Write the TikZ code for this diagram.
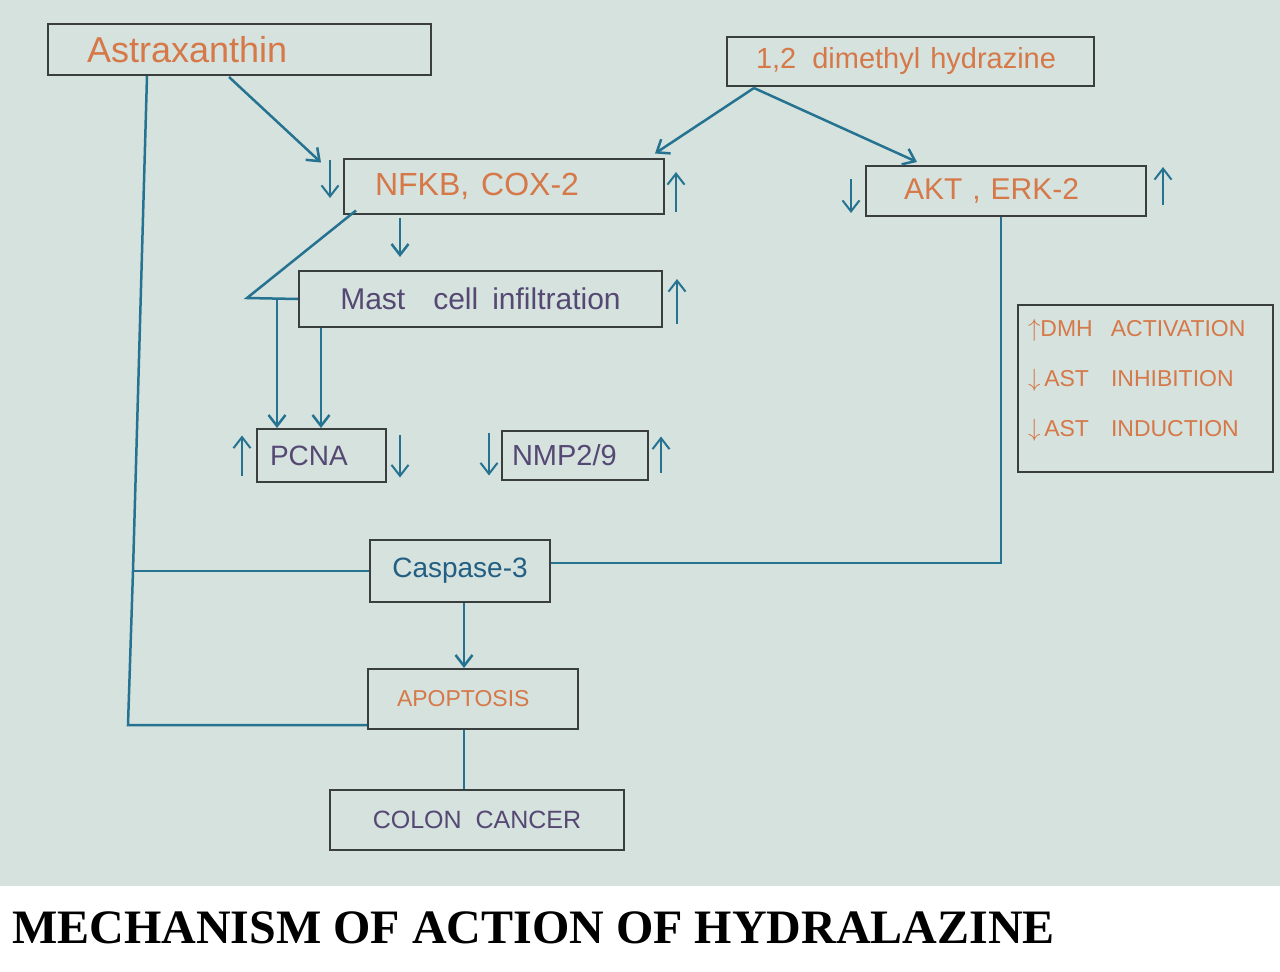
\documentclass[tikz,border=0pt]{standalone}
\usepackage{fontspec}
\setmainfont{Liberation Sans}
\newfontfamily\titlefont{Liberation Serif}
\usetikzlibrary{arrows.meta,calc}
\definecolor{paper}{RGB}{213,226,222}
\definecolor{boxline}{RGB}{58,62,62}
\definecolor{ink}{RGB}{38,115,145}
\definecolor{orangeink}{RGB}{214,120,72}
\definecolor{purpleink}{RGB}{85,72,115}
\definecolor{tealtext}{RGB}{35,95,130}
\begin{document}
\begin{tikzpicture}[x=1pt,y=-1pt,
		>={Straight Barb[length=11pt,width=17pt]},
		flowbox/.style={draw=boxline, line width=2pt, rectangle, inner ysep=0pt},
		flowline/.style={draw=ink, line width=2.5pt},
		updown/.style={draw=ink, line width=2pt, ->}]
				% paper and caption strip
				\useasboundingbox (0,0) rectangle (1280,972);
				\fill[paper] (0,0) rectangle (1280,886);

				% Astraxanthin
				\node[flowbox, text width=305pt, inner xsep=39pt, minimum height=51pt, align=left, text=orangeink, font=\fontsize{36}{40}\selectfont] (astr) at (239.5,49.5) {Astraxanthin};

				% 1,2 dimethyl hydrazine
				\node[flowbox, text width=309pt, inner xsep=29pt, minimum height=49pt, align=left, text=orangeink, font=\fontsize{29}{34}\selectfont] (dmh) at (910.5,61.5) {1,2\hspace{16pt}dimethyl\hspace{10pt}hydrazine};

				% NFKB, COX-2
				\node[flowbox, text width=258pt, inner xsep=31pt, minimum height=55pt, align=left, text=orangeink, font=\fontsize{32}{36}\selectfont] (nfkb) at (504,186) {NFKB,\hspace{12pt}COX-2};

				% AKT, ERK-2
				\node[flowbox, text width=204pt, inner xsep=38pt, minimum height=50pt, align=left, text=orangeink, font=\fontsize{30}{34}\selectfont] (akt) at (1006,191) {AKT , ERK-2};

				% Mast cell infiltration
				\node[flowbox, minimum width=363pt, minimum height=56pt, text=purpleink, font=\fontsize{30}{34}\selectfont] (mast) at (480.5,299) {Mast\hspace{28pt}cell\hspace{14pt}infiltration};

				% PCNA and NMP2/9
				\node[flowbox, text width=103pt, inner xsep=13pt, minimum height=53pt, align=left, text=purpleink, font=\fontsize{28}{32}\selectfont] (pcna) at (321.5,455.5) {PCNA};
				\node[flowbox, text width=126pt, inner xsep=10pt, minimum height=49pt, align=left, text=purpleink, font=\fontsize{29}{32}\selectfont] (nmp) at (575,455.5) {NMP2/9};

				% Key
				\node[flowbox, text width=235pt, inner xsep=10pt, minimum height=167pt, align=left, text=orangeink, font=\fontsize{23}{50}\selectfont] (key) at (1145.5,388.5) {$\uparrow$DMH\hspace{18pt}ACTIVATION\\$\downarrow$\,AST\hspace{22pt}INHIBITION\\$\downarrow$\,AST\hspace{22pt}INDUCTION\par\vspace{17pt}};

				% Caspase-3
				\node[flowbox, minimum width=180pt, minimum height=62pt, text=tealtext, font=\fontsize{28}{32}\selectfont] (casp) at (460,571) {Caspase-3};

				% Apoptosis
				\node[flowbox, text width=152pt, inner xsep=29pt, minimum height=60pt, align=left, text=orangeink, font=\fontsize{23}{26}\selectfont] (apop) at (473,699) {APOPTOSIS};

				% Colon cancer
				\node[flowbox, minimum width=294pt, minimum height=60pt, text=purpleink, font=\fontsize{25}{28}\selectfont] (colon) at (477,820) {COLON\hspace{14pt}CANCER};

				% Caption
				\node[anchor=base west, inner sep=0pt, font=\titlefont\bfseries\fontsize{48}{52}\selectfont] (title) at (12,943) {MECHANISM OF ACTION OF HYDRALAZINE};

				% Astraxanthin links
				\coordinate (astrmid) at (133,571);
				\coordinate (astrfoot) at (128,725);
				\draw[->, flowline] ($(astr.south west)+(182,1)$) -- ($(nfkb.north west)+(-22,5)$);
				\draw[flowline] ($(astr.south west)+(100,0)$) -- (astrmid) -- (astrfoot) -- (astrfoot -| apop.west);
				\draw[flowline] (astrmid) -- (casp.west);

				% hydrazine links
				\coordinate (fork) at ($(dmh.south west)+(28,1)$);
				\draw[->, flowline] (fork) -- ($(nfkb.north east)+(-10,-4)$);
				\draw[->, flowline] (fork) -- ($(akt.north west)+(52,-3)$);

				% NFKB links
				\draw[->, flowline] ($(nfkb.south west)+(57,3)$) -- ($(mast.north west)+(102,-13)$);
				\coordinate (bend) at (247,298);
				\draw[flowline] ($(nfkb.south west)+(13,-4)$) -- (bend) -- (mast.west);
				\draw[->, flowline] ($(pcna.north west)+(21,-130)$) -- ($(pcna.north west)+(21,0)$);
				\draw[->, flowline] ($(mast.south west)+(23,0)$) -- ($(pcna.north west)+(65,0)$);

				% AKT to caspase
				\draw[flowline] ($(akt.south)+(-5,0)$) |- ($(casp.east)+(0,-8)$);

				% caspase, apoptosis, colon cancer
				\draw[->, flowline] ($(casp.south)+(4,0)$) -- ($(apop.north)+(-9,0)$);
				\draw[flowline] ($(apop.south)+(-9,0)$) -- ($(colon.north)+(-13,0)$);

				% up and down marks
				\draw[updown] ($(nfkb.west)+(-13,-26)$) -- ++(0,38);
				\draw[updown] ($(nfkb.east)+(11,26)$) -- ++(0,-40);
				\draw[updown] ($(akt.west)+(-14,-12)$) -- ++(0,34);
				\draw[updown] ($(akt.east)+(16,14)$) -- ++(0,-38);
				\draw[updown] ($(mast.east)+(14,25)$) -- ++(0,-45);
				\draw[updown] ($(pcna.west)+(-14,20)$) -- ++(0,-40);
				\draw[updown] ($(pcna.east)+(13,-21)$) -- ++(0,43);
				\draw[updown] ($(nmp.west)+(-12,-23)$) -- ++(0,43);
				\draw[updown] ($(nmp.east)+(12,17)$) -- ++(0,-36);
\end{tikzpicture}
\end{document}
